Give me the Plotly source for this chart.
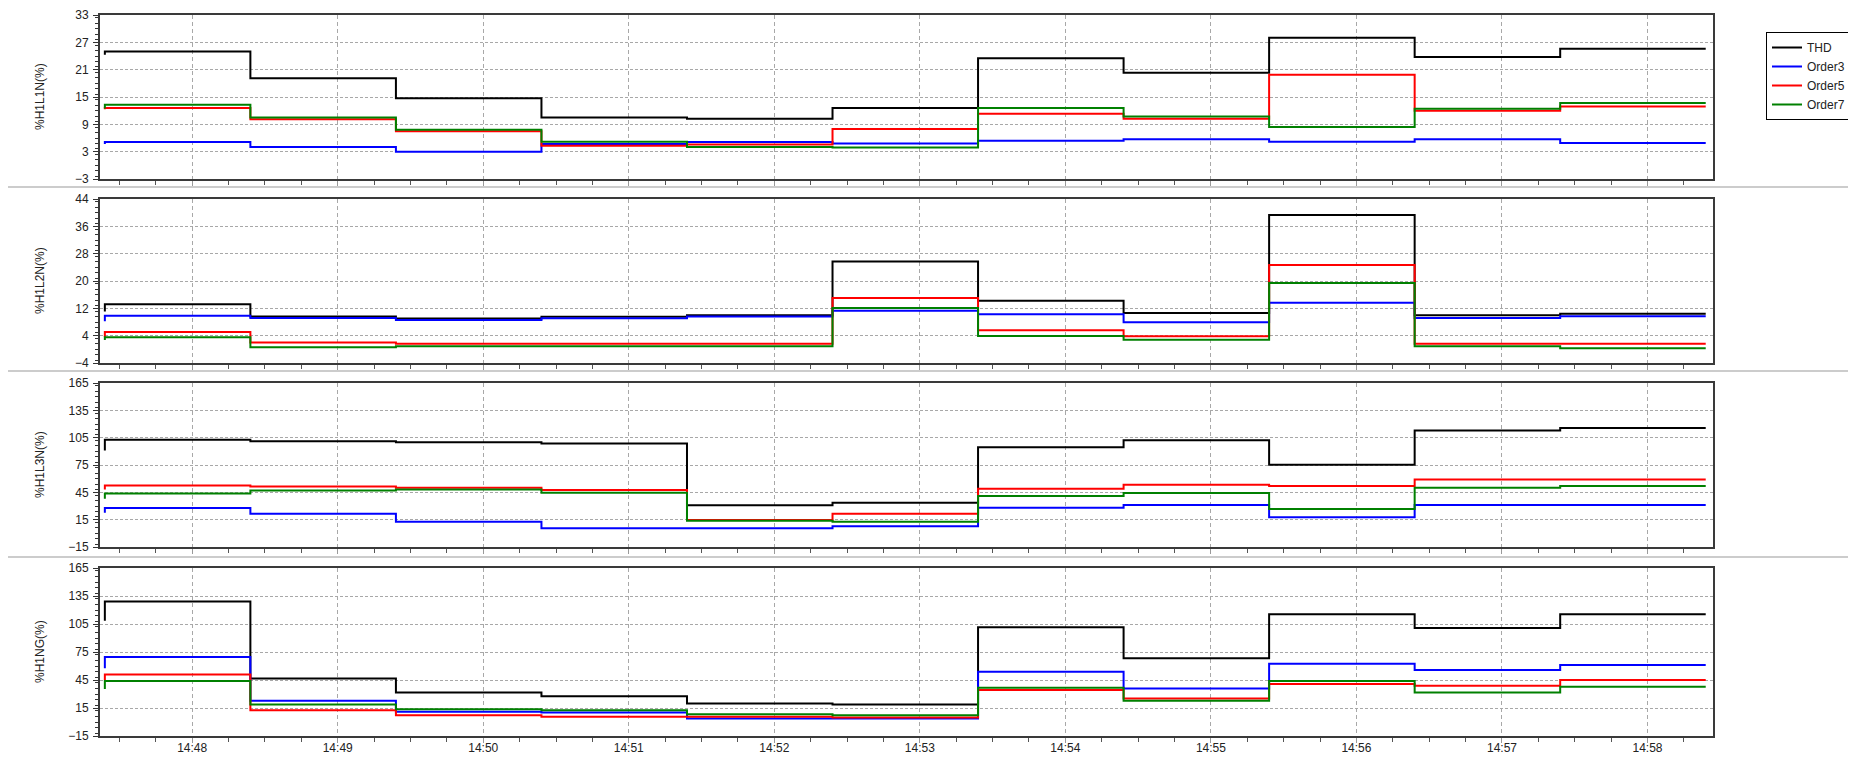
import plotly.graph_objects as go
from plotly.subplots import make_subplots

# sample times: first reading, then one value per minute
day = "2024-01-01 "
times = ["14:47:24", "14:47:24", "14:48:24", "14:49:24", "14:50:24", "14:51:24",
         "14:52:24", "14:53:24", "14:54:24", "14:55:24", "14:56:24", "14:57:24"]
end_time = "14:58:24"

series_names = ["THD", "Order3", "Order5", "Order7"]
series_colors = ["#000000", "#0000ff", "#ff0000", "#008000"]

# %H1L1N(%)
l1n_thd = [24.3, 25.0, 19.1, 14.7, 10.5, 10.2, 12.6, 23.5, 20.3, 28.0, 23.8, 25.6]
l1n_o3 = [4.7, 5.1, 4.0, 3.0, 4.7, 5.1, 4.8, 5.4, 5.7, 5.2, 5.7, 4.9]
l1n_o5 = [12.3, 12.6, 10.1, 7.5, 4.3, 4.6, 8.0, 11.3, 10.2, 19.9, 12.0, 12.9]
l1n_o7 = [12.5, 13.3, 10.5, 7.8, 5.2, 4.0, 3.9, 12.6, 10.7, 8.4, 12.4, 13.7]

# %H1L2N(%)
l2n_thd = [11.1, 13.2, 9.6, 9.0, 9.5, 10.0, 25.7, 14.2, 10.6, 39.3, 10.0, 10.4]
l2n_o3 = [8.2, 9.85, 9.2, 8.6, 9.1, 9.6, 11.3, 10.3, 7.9, 13.6, 9.2, 9.7]
l2n_o5 = [3.6, 5.1, 2.0, 1.6, 1.6, 1.6, 15.0, 5.6, 3.8, 24.7, 1.6, 1.6]
l2n_o7 = [2.7, 3.5, 0.6, 0.9, 0.9, 0.9, 12.1, 3.9, 2.8, 19.4, 0.9, 0.3]

# %H1L3N(%)
l3n_thd = [90.9, 102.6, 101.1, 100.0, 98.5, 30.7, 33.6, 94.6, 102.2, 75.2, 112.8, 115.7]
l3n_o3 = [22.7, 27.8, 21.6, 12.8, 5.5, 5.5, 7.7, 28.1, 31.1, 17.6, 31.1, 31.1]
l3n_o5 = [48.2, 52.6, 51.5, 50.0, 47.5, 14.5, 21.6, 49.0, 53.3, 51.9, 59.2, 59.2]
l3n_o7 = [38.0, 43.8, 47.1, 48.2, 44.6, 13.8, 12.8, 40.9, 44.2, 26.7, 50.0, 51.9]

# %H1NG(%)
ng_thd = [108.4, 129.2, 46.7, 31.7, 27.7, 19.8, 18.8, 101.6, 68.2, 115.5, 100.8, 115.5]
ng_o3 = [57.5, 69.7, 22.7, 10.9, 10.2, 3.7, 3.7, 53.9, 36.0, 62.5, 55.7, 61.1]
ng_o5 = [44.9, 51.0, 12.7, 7.3, 5.5, 5.5, 4.8, 34.2, 25.2, 40.6, 38.8, 44.9]
ng_o7 = [35.3, 43.9, 18.8, 13.7, 12.7, 8.4, 7.3, 36.7, 22.7, 43.9, 31.7, 37.8]

panels = [
    ("%H1L1N(%)", [l1n_thd, l1n_o3, l1n_o5, l1n_o7], [-3, 33], 6),
    ("%H1L2N(%)", [l2n_thd, l2n_o3, l2n_o5, l2n_o7], [-4, 44], 8),
    ("%H1L3N(%)", [l3n_thd, l3n_o3, l3n_o5, l3n_o7], [-15, 165], 30),
    ("%H1NG(%)", [ng_thd, ng_o3, ng_o5, ng_o7], [-15, 165], 30),
]

# page is 1856x757, the figure div sits 8px in from the top-left (body margin)
W, H = 1856, 757
OFF = 8
FW, FH = W - OFF, H - OFF
left, right, top_px, bottom_px = 100, 1713, 15, 736   # plot area, page pixels
plot_w = right - left
plot_h = bottom_px - top_px
panel_px = [(15, 179), (199, 363), (383, 547), (568, 736)]
sep_px = [187, 371, 557]


def yfrac(py):
    return (bottom_px - py) / plot_h


def xfrac(px):
    return (px - left) / plot_w


fig = make_subplots(rows=4, cols=1, shared_xaxes=True)

x = [day + t for t in times] + [day + end_time]

font = dict(family="Liberation Sans, Arial, sans-serif", size=12, color="#222222")

for r, (title, values, yr, step) in enumerate(panels, start=1):
    for name, color, v in zip(series_names, series_colors, values):
        fig.add_trace(go.Scatter(
            x=x, y=v + [v[-1]], mode="lines", name=name,
            line=dict(color=color, width=2, shape="hv"),
            showlegend=(r == 1),
        ), row=r, col=1)

    top, bot = panel_px[r - 1]
    fig.update_yaxes(
        domain=[yfrac(bot), yfrac(top)], range=yr, tick0=yr[0], dtick=step,
        automargin=False,
        showline=True, mirror=True, linecolor="#3a3a3a", linewidth=2,
        ticks="outside", ticklen=5, tickcolor="#333333", tickfont=font,
        ticklabelstandoff=2,
        showgrid=True, gridcolor="#a8a8a8", gridwidth=1, griddash="3px,2px",
        zeroline=False,
        minor=dict(dtick=step / 5, ticks="outside", ticklen=3, tickcolor="#333333", showgrid=False),
        row=r, col=1,
    )
    fig.add_annotation(
        text=title, textangle=-90, xref="paper", yref="paper",
        x=xfrac(40), y=yfrac((top + bot) / 2), showarrow=False,
        xanchor="center", yanchor="middle", font=font,
    )
    fig.update_xaxes(
        type="date", range=[day + "14:47:22", day + "14:58:27"],
        dtick=60000, tickformat="%H:%M", tickfont=font,
        showticklabels=(r == 4), automargin=False,
        showline=True, mirror=True, linecolor="#3a3a3a", linewidth=2,
        ticks="outside", ticklen=5, tickcolor="#9a9a9a",
        ticklabelstandoff=-5,
        showgrid=True, gridcolor="#a8a8a8", gridwidth=1, griddash="4px,3px",
        zeroline=False,
        minor=dict(dtick=15000, ticks="outside", ticklen=4, tickcolor="#555555", showgrid=False),
        row=r, col=1,
    )

for py in sep_px:
    fig.add_shape(type="line", xref="paper", yref="paper",
                  x0=xfrac(OFF), x1=xfrac(W), y0=yfrac(py), y1=yfrac(py),
                  line=dict(color="#cccccc", width=2))

fig.update_layout(
    width=FW, height=FH,
    margin=dict(l=left - OFF, r=W - right, t=top_px - OFF, b=H - bottom_px, autoexpand=False),
    paper_bgcolor="white", plot_bgcolor="white",
    font=font,
    legend=dict(
        x=xfrac(1766), y=yfrac(32), xanchor="left", yanchor="top",
        bgcolor="white", bordercolor="#000000", borderwidth=1,
        font=font, itemwidth=30, tracegroupgap=0,
    ),
)

fig.write_html("out.html")
